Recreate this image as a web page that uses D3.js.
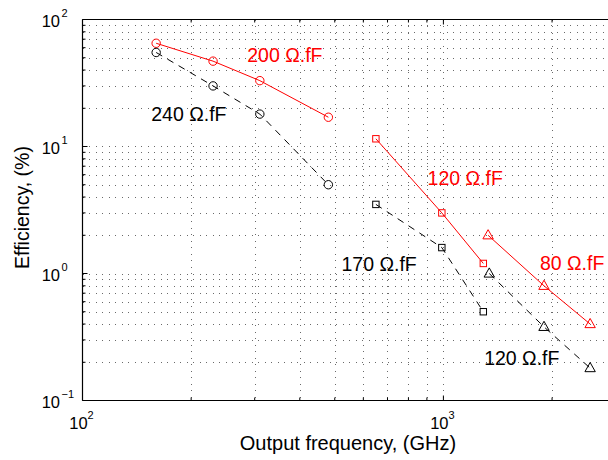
<!DOCTYPE html>
<html>
<head>
<meta charset="utf-8">
<script src="https://cdn.jsdelivr.net/npm/d3@7"></script>
<style>
  html, body { margin: 0; padding: 0; background: #fff; }
  svg { display: block; font-family: "Liberation Sans", Arial, Helvetica, sans-serif; }
</style>
</head>
<body>
<svg id="chart" width="608" height="460"></svg>
<script>
// Output frequency (GHz) and efficiency (%) for each device family
const freq200 = [160, 230, 310, 480];
const eff200  = [65, 47, 33, 17];
const freq240 = [160, 230, 310, 480];
const eff240  = [55, 30, 18, 5];
const freq120r = [650, 990, 1290];
const eff120r  = [11.5, 3, 1.2];
const freq170 = [650, 990, 1290];
const eff170  = [3.5, 1.6, 0.5];
const freq80  = [1330, 1900, 2550];
const eff80   = [2, 0.8, 0.4];
const freq120k = [1340, 1900, 2550];
const eff120k  = [1, 0.38, 0.18];

const xTickLabels = [["10", "2"], ["10", "3"]];
const yTickLabels = [["10", "2"], ["10", "1"], ["10", "0"], ["10", "\u22121"]];
const xTickValues = [100, 1000];
const yTickValues = [100, 10, 1, 0.1];

// annotation anchors (left end of the baseline) in data coordinates
const seriesLabels = [
  { text: "200 \u03A9.fF", color: "red",   fx: 286,  fy: 46.5 },
  { text: "240 \u03A9.fF", color: "black", fx: 155,  fy: 16.0 },
  { text: "120 \u03A9.fF", color: "red",   fx: 904,  fy: 4.98 },
  { text: "170 \u03A9.fF", color: "black", fx: 522,  fy: 1.046 },
  { text: "80 \u03A9.fF",  color: "red",   fx: 1851, fy: 1.066 },
  { text: "120 \u03A9.fF", color: "black", fx: 1297, fy: 0.19 }
];

const svg = d3.select("#chart");
const plotL = 82.5, plotR = 615.6, plotT = 19.5, plotB = 400.5;

const x = d3.scaleLog().domain([100, 3000]).range([plotL, plotR]);
const y = d3.scaleLog().domain([0.1, 100]).range([plotB, plotT]);

// grid: every 1..9 step of each decade, dotted
const gridX = [];
[100, 1000].forEach(d => { for (let k = 1; k <= 9; k++) { const v = d * k; if (v <= 3000) gridX.push(v); } });
const gridY = [];
[0.1, 1, 10].forEach(d => { for (let k = 1; k <= 9; k++) gridY.push(d * k); });

const grid = svg.append("g").attr("stroke", "#6a6a6a").attr("stroke-width", 1)
  .attr("stroke-dasharray", "1,5.5").attr("shape-rendering", "crispEdges");
grid.selectAll("line.gx").data(gridX.filter(v => v > 100)).enter().append("line")
  .attr("x1", d => Math.round(x(d)) + 0.5).attr("x2", d => Math.round(x(d)) + 0.5)
  .attr("y1", plotT).attr("y2", plotB);
grid.selectAll("line.gy").data(gridY.filter(v => v > 0.1 && v < 100)).enter().append("line")
  .attr("y1", d => Math.round(y(d)) + 0.5).attr("y2", d => Math.round(y(d)) + 0.5)
  .attr("x1", plotL).attr("x2", plotR);

// axes frame
const frame = svg.append("g").attr("stroke", "#000").attr("stroke-width", 1.2).attr("fill", "none");
frame.append("line").attr("x1", plotL).attr("x2", plotR).attr("y1", plotT).attr("y2", plotT);
frame.append("line").attr("x1", plotL).attr("x2", plotR).attr("y1", plotB).attr("y2", plotB);
frame.append("line").attr("x1", plotL).attr("x2", plotL).attr("y1", plotT).attr("y2", plotB);
frame.append("line").attr("x1", plotR).attr("x2", plotR).attr("y1", plotT).attr("y2", plotB);

// inward tick marks
const ticks = svg.append("g").attr("stroke", "#000").attr("stroke-width", 1);
gridX.forEach(v => {
  const len = (v === 100 || v === 1000) ? 5 : 3;
  ticks.append("line").attr("x1", x(v)).attr("x2", x(v)).attr("y1", plotB).attr("y2", plotB - len);
  ticks.append("line").attr("x1", x(v)).attr("x2", x(v)).attr("y1", plotT).attr("y2", plotT + len);
});
gridY.concat([100]).forEach(v => {
  const len = [0.1, 1, 10, 100].includes(v) ? 5 : 3;
  ticks.append("line").attr("y1", y(v)).attr("y2", y(v)).attr("x1", plotL).attr("x2", plotL + len);
});

// tick labels
const xl = svg.append("g").attr("font-size", 16.5).attr("fill", "#000");
xTickValues.forEach((v, i) => {
  const t = xl.append("text").attr("x", x(v) - 1).attr("y", 429).attr("text-anchor", "middle");
  t.append("tspan").text(xTickLabels[i][0]);
  t.append("tspan").attr("font-size", 11).attr("dy", -10).text(xTickLabels[i][1]);
});
const yl = svg.append("g").attr("font-size", 16.5).attr("fill", "#000");
yTickValues.forEach((v, i) => {
  const t = yl.append("text").attr("x", 41.7).attr("y", y(v) + 7);
  t.append("tspan").text(yTickLabels[i][0]);
  t.append("tspan").attr("font-size", 11).attr("dx", 1.5).attr("dy", -10).text(yTickLabels[i][1]);
});

// axis titles
svg.append("text").attr("x", 348).attr("y", 450).attr("text-anchor", "middle")
  .attr("font-size", 20).text("Output frequency, (GHz)");
svg.append("text").attr("transform", "translate(29,207.5) rotate(-90)").attr("text-anchor", "middle")
  .attr("font-size", 19.5).text("Efficiency, (%)");

// marker shapes
function circleMarker(g, px, py, color) {
  g.append("circle").attr("cx", px).attr("cy", py).attr("r", 4.2)
    .attr("fill", "none").attr("stroke", color).attr("stroke-width", 1);
}
function squareMarker(g, px, py, color) {
  g.append("rect").attr("x", px - 3.2).attr("y", py - 3.2).attr("width", 6.4).attr("height", 6.4)
    .attr("fill", "none").attr("stroke", color).attr("stroke-width", 1);
}
function triangleMarker(g, px, py, color) {
  const w = 5.2, h = 4.6;
  g.append("path").attr("d", `M${px},${py - h - 1}L${px + w},${py + h - 1}L${px - w},${py + h - 1}Z`)
    .attr("fill", "none").attr("stroke", color).attr("stroke-width", 1);
}

const line = d3.line().x(d => x(d[0])).y(d => y(d[1]));
const series = [
  { fx: freq200, fy: eff200, color: "red", dash: null, marker: circleMarker },
  { fx: freq240, fy: eff240, color: "black", dash: "7,6", marker: circleMarker },
  { fx: freq120r, fy: eff120r, color: "red", dash: null, marker: squareMarker },
  { fx: freq170, fy: eff170, color: "black", dash: "7,6", marker: squareMarker },
  { fx: freq80, fy: eff80, color: "red", dash: null, marker: triangleMarker },
  { fx: freq120k, fy: eff120k, color: "black", dash: "7,6", marker: triangleMarker }
];

series.forEach(s => {
  const pts = s.fx.map((f, i) => [f, s.fy[i]]);
  const g = svg.append("g");
  g.append("path").attr("d", line(pts)).attr("fill", "none")
    .attr("stroke", s.color).attr("stroke-width", 1)
    .attr("stroke-dasharray", s.dash);
  pts.forEach(p => s.marker(g, x(p[0]), y(p[1]), s.color));
});

// series annotations
svg.append("g").attr("font-size", 19.5).selectAll("text").data(seriesLabels).enter().append("text")
  .attr("x", d => x(d.fx)).attr("y", d => y(d.fy))
  .attr("fill", d => d.color).text(d => d.text);
</script>
</body>
</html>
